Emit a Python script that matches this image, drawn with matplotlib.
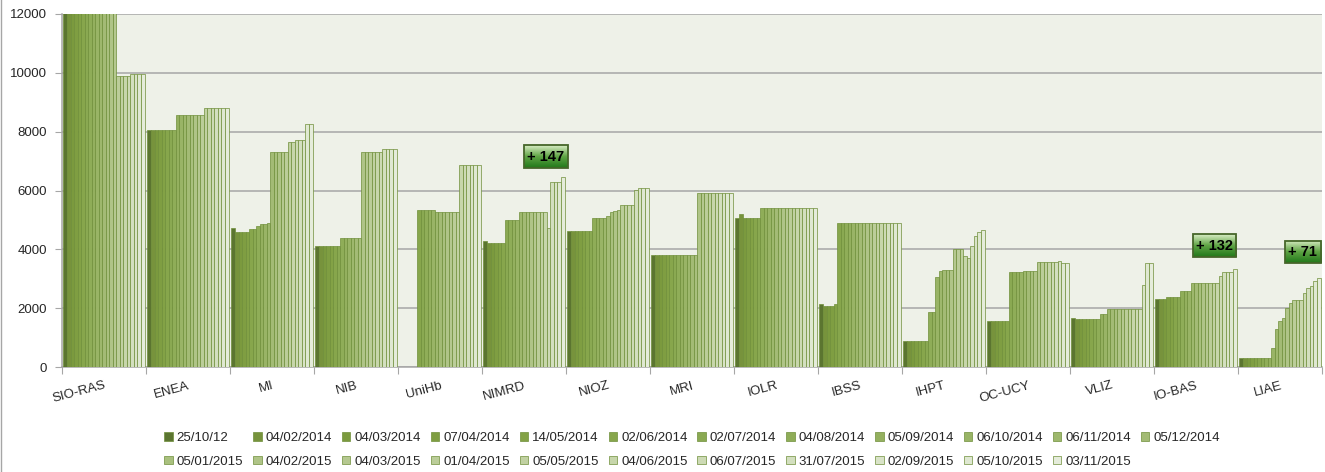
import matplotlib
matplotlib.use('Agg')
import matplotlib.pyplot as plt
import numpy as np
from matplotlib.colors import LinearSegmentedColormap
from matplotlib.lines import Line2D
from matplotlib.patches import Rectangle

plt.rcParams['font.family'] = ['Liberation Sans', 'DejaVu Sans']

institutes = ['SIO-RAS', 'ENEA', 'MI', 'NIB', 'UniHb', 'NIMRD', 'NIOZ', 'MRI',
              'IOLR', 'IBSS', 'IHPT', 'OC-UCY', 'VLIZ', 'IO-BAS', 'LIAE']
dates = ['25/10/12', '04/02/2014', '04/03/2014', '07/04/2014', '14/05/2014',
         '02/06/2014', '02/07/2014', '04/08/2014', '05/09/2014', '06/10/2014',
         '06/11/2014', '05/12/2014', '05/01/2015', '04/02/2015', '04/03/2015',
         '01/04/2015', '05/05/2015', '04/06/2015', '06/07/2015', '31/07/2015',
         '02/09/2015', '05/10/2015', '03/11/2015']

# one list per institute, one value per date
sio_ras = [12500] * 15 + [9900] * 4 + [9950] * 4
enea = [8070] * 8 + [8570] * 8 + [8800] * 7
mi = ([4720] + [4600] * 4 + [4680] * 2 + [4800, 4850, 4870, 4890]
      + [7300] * 5 + [7660] * 2 + [7700] * 3 + [8250] * 2)
nib = [4120] * 7 + [4370] * 6 + [7300] * 6 + [7400] * 4
unihb = [0] * 5 + [5340] * 5 + [5260] * 7 + [6850] * 6
nimrd = [4270] + [4230] * 5 + [5010] * 4 + [5260] * 8 + [4715] + [6300] * 3 + [6450]
nioz = ([4635] * 7 + [5080] * 4 + [5150, 5260, 5300, 5340] + [5520] * 4
        + [6020] + [6100] * 3)
mri = [3810] * 13 + [5900] * 10
iolr = [5080, 5190] + [5080] * 5 + [5400] * 16
ibss = [2130] + [2090] * 3 + [2130] + [4880] * 18
ihpt = ([895] * 7 + [1860] * 2 + [3050, 3265] + [3310] * 3 + [4000] * 3
        + [3775, 3700, 4100, 4440, 4600, 4650])
oc_ucy = [1575] * 6 + [3230] * 4 + [3265] * 4 + [3560] * 6 + [3600] + [3525] * 2
vliz = [1655] + [1620] * 7 + [1790] * 2 + [1980] * 10 + [2780] + [3525] * 2
io_bas = [2300] * 3 + [2380] * 4 + [2575] * 3 + [2855] * 8 + [3105] + [3230] * 3 + [3330]
liae = [316] * 9 + [650, 1280, 1575, 1655, 2000, 2165, 2280, 2280, 2280,
                    2525, 2675, 2755, 2915, 3030]

values = np.array([sio_ras, enea, mi, nib, unihb, nimrd, nioz, mri, iolr,
                   ibss, ihpt, oc_ucy, vliz, io_bas, liae], dtype=float)

# boxed notes: text, category position, value
note_texts = ['+ 147', '+ 132', '+ 71']
note_x = [5.26, 13.22, 14.27]
note_y = [7150, 4130, 3910]
note_w = [0.52, 0.52, 0.43]

colors = ['#5b7530', '#77933c', '#7b9a3e', '#7f9e42', '#83a246', '#87a64c',
          '#8aa952', '#8fad58', '#94b05f', '#99b466', '#9eb86d', '#a3bb75',
          '#a9c07e', '#afc487', '#b5c890', '#bbcd99', '#c1d1a2', '#c7d6ab',
          '#cddab5', '#d3dfbf', '#d9e3c8', '#dfe8d2', '#e5ecdb']

fig = plt.figure(figsize=(13.25, 4.72), dpi=100)
ax = fig.add_axes([62 / 1325, 1 - 367 / 472, 1260 / 1325, 353 / 472])
ax.set_facecolor('#eef1e8')

n_series = len(dates)
group = 0.965
bw = group / n_series
x = np.arange(len(institutes))
handles = []
for j, date in enumerate(dates):
    pos = x - group / 2 + bw * (j + 0.5)
    heights = np.where(values[:, j] > 0, values[:, j], np.nan)
    bars = ax.bar(pos, heights, width=bw, color=colors[j],
                  edgecolor='#6f8f3a', linewidth=0.5, zorder=3, label=date)
    handles.append(bars)

ax.set_xlim(-0.5, len(institutes) - 0.5)
ax.set_ylim(0, 12000)
ax.set_yticks(np.arange(0, 12001, 2000))
ax.grid(axis='y', color='#a6a6a6', linewidth=1.1, zorder=1)
ax.set_axisbelow(True)

ax.set_xticks(np.arange(len(institutes) + 1) - 0.5)
ax.set_xticklabels([])
ax.set_xticks(x, minor=True)
ax.set_xticklabels(institutes, minor=True, rotation=15, ha='right',
                   va='top', rotation_mode='anchor', fontsize=9.5,
                   color='#262626')
ax.tick_params(axis='x', which='major', length=5, color='#a6a6a6')
ax.tick_params(axis='x', which='minor', length=0, pad=9)
ax.tick_params(axis='y', length=5, color='#a6a6a6', labelsize=9.5,
               labelcolor='#262626', pad=6)
for side in ('top', 'right'):
    ax.spines[side].set_visible(False)
for side in ('left', 'bottom'):
    ax.spines[side].set_color('#a6a6a6')
    ax.spines[side].set_linewidth(1.1)

# gradient-filled note boxes
cmap = LinearSegmentedColormap.from_list('note', ['#d8edc4', '#5fa444', '#21781a'])
grad = np.linspace(0, 1, 64).reshape(-1, 1)
box_h = 780
for text, nx, ny, w in zip(note_texts, note_x, note_y, note_w):
    ext = [nx - w / 2, nx + w / 2, ny - box_h / 2, ny + box_h / 2]
    ax.imshow(grad, extent=ext, aspect='auto', cmap=cmap, zorder=6,
              interpolation='bilinear')
    ax.add_patch(Rectangle((ext[0], ext[2]), w, box_h, fill=False,
                           edgecolor='#46662a', linewidth=1.3, zorder=7))
    ax.text(nx, ny, text, ha='center', va='center', fontsize=10.5,
            fontweight='bold', color='black', zorder=8)
ax.set_xlim(-0.5, len(institutes) - 0.5)
ax.set_ylim(0, 12000)

# legend laid out row by row like the original
ncol = 12
order = []
for c in range(ncol):
    order.append(c)
    if c + ncol < n_series:
        order.append(c + ncol)
leg = fig.legend([handles[i] for i in order], [dates[i] for i in order],
                 loc='center', bbox_to_anchor=(692 / 1325, 1 - 450 / 472),
                 ncol=ncol, frameon=False, fontsize=9.5, handlelength=0.65,
                 handleheight=0.65, handletextpad=0.3, columnspacing=0.75,
                 labelspacing=0.85, borderpad=0)
for t in leg.get_texts():
    t.set_color('#262626')

fig.add_artist(Line2D([0.0008, 0.0008], [0, 1], color='#a6a6a6', linewidth=1))

fig.savefig('out.png', dpi=100, facecolor='white')
